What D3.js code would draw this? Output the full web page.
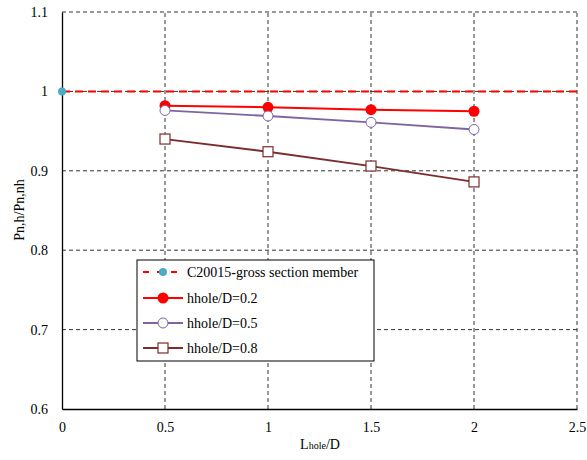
<!DOCTYPE html>
<html><head><meta charset="utf-8">
<script src="https://cdn.jsdelivr.net/npm/d3@7"></script>
<style>body{margin:0;background:#fff}svg{display:block}
svg text{font-family:"Liberation Serif","Times New Roman",Tinos,"DejaVu Serif",serif !important}</style>
</head><body>
<script>
const xTicks = [0, 0.5, 1, 1.5, 2, 2.5];
const yTicks = [0.6, 0.7, 0.8, 0.9, 1.0, 1.1];
const xVals = [0.5, 1, 1.5, 2];
const refX = [0, 2.5];
const refY = [1, 1];
const s02 = [0.982, 0.980, 0.977, 0.975];
const s05 = [0.976, 0.969, 0.961, 0.952];
const s08 = [0.940, 0.924, 0.906, 0.886];
const legendLabels = ["C20015-gross section member", "hhole/D=0.2", "hhole/D=0.5", "hhole/D=0.8"];

const W = 587, H = 460;
const m = {l: 62, r: 10, t: 12, b: 51};
const svg = d3.select("body").append("svg").attr("width", W).attr("height", H);
const x = d3.scaleLinear().domain([0, 2.5]).range([m.l, W - m.r]);
const y = d3.scaleLinear().domain([0.6, 1.1]).range([H - m.b, m.t]);

// grid
svg.append("g").selectAll("line").data(xTicks.slice(1)).join("line")
  .attr("x1", d => x(d)).attr("x2", d => x(d)).attr("y1", y(0.6)).attr("y2", y(1.1))
  .attr("stroke", "#333").attr("stroke-width", 1).attr("stroke-dasharray", "4,3");
svg.append("g").selectAll("line").data(yTicks.slice(1)).join("line")
  .attr("x1", x(0)).attr("x2", x(2.5)).attr("y1", d => y(d)).attr("y2", d => y(d))
  .attr("stroke", "#333").attr("stroke-width", 1).attr("stroke-dasharray", "4,3");

// axes
const xa = svg.append("g").attr("transform", `translate(0,${y(0.6)})`)
  .call(d3.axisBottom(x).tickValues(xTicks).tickSize(0).tickPadding(13).tickFormat(d3.format("")));
const ya = svg.append("g").attr("transform", `translate(${x(0)},0)`)
  .call(d3.axisLeft(y).tickValues(yTicks).tickSize(0).tickPadding(14).tickFormat(d => d === 1 ? "1" : d3.format(".1f")(d)));
[xa, ya].forEach(a => {
  a.attr("font-family", null);
  a.select(".domain").attr("stroke", "#000").attr("stroke-width", 1.3);
  a.selectAll("text").attr("font-size", 14).attr("fill", "#000");
});

// reference line
const line = d3.line().x(d => x(d[0])).y(d => y(d[1]));
svg.append("path").datum(d3.zip(refX, refY)).attr("d", line)
  .attr("fill", "none").attr("stroke", "#ff0000").attr("stroke-width", 2).attr("stroke-dasharray", "8,5");
svg.append("circle").attr("cx", x(refX[0])).attr("cy", y(refY[0])).attr("r", 4).attr("fill", "#4bacc6");

// series
const series = [
  {v: s02, color: "#ff0000", sym: "fcircle"},
  {v: s05, color: "#8064a2", sym: "ocircle"},
  {v: s08, color: "#7b2c2c", sym: "square"}
];
function marker(g, sym, color, cx, cy) {
  if (sym === "fcircle") g.append("circle").attr("cx", cx).attr("cy", cy).attr("r", 5.5).attr("fill", color);
  else if (sym === "ocircle") g.append("circle").attr("cx", cx).attr("cy", cy).attr("r", 5).attr("fill", "#fff").attr("stroke", color).attr("stroke-width", 1);
  else g.append("rect").attr("x", cx - 5).attr("y", cy - 5).attr("width", 10).attr("height", 10).attr("fill", "#fff").attr("stroke", color).attr("stroke-width", 1.2);
}
series.forEach(s => {
  const g = svg.append("g");
  g.append("path").datum(d3.zip(xVals, s.v)).attr("d", line)
    .attr("fill", "none").attr("stroke", s.color).attr("stroke-width", s.sym === "fcircle" ? 2 : 1.8);
  xVals.forEach((xv, i) => marker(g, s.sym, s.color, x(xv), y(s.v[i])));
});

// legend
const lg = svg.append("g").attr("transform", "translate(137,260)");
lg.append("rect").attr("width", 237).attr("height", 101).attr("fill", "#fff").attr("stroke", "#000").attr("stroke-width", 1);
const rows = [12, 38, 63, 88];
legendLabels.forEach((t, i) => {
  const ry = rows[i];
  const row = lg.append("g");
  if (i === 0) {
    row.append("line").attr("x1", 6).attr("x2", 46).attr("y1", ry).attr("y2", ry)
      .attr("stroke", "#ff0000").attr("stroke-width", 2).attr("stroke-dasharray", "6,8");
    row.append("circle").attr("cx", 26).attr("cy", ry).attr("r", 4).attr("fill", "#4bacc6");
  } else {
    const s = series[i - 1];
    row.append("line").attr("x1", 6).attr("x2", 46).attr("y1", ry).attr("y2", ry)
      .attr("stroke", s.color).attr("stroke-width", 2);
    marker(row, s.sym, s.color, 26, ry);
  }
  row.append("text").attr("x", 50).attr("y", ry + 5).attr("font-size", 14).text(t);
});

// axis titles
const xt = svg.append("text").attr("x", 320).attr("y", 449).attr("text-anchor", "middle").attr("font-size", 14);
xt.append("tspan").text("L");
xt.append("tspan").attr("font-size", 10).text("hole");
xt.append("tspan").text("/D");
svg.append("text").attr("transform", "translate(24,210) rotate(-90)").attr("text-anchor", "middle")
  .attr("font-size", 14).text("Pn,h/Pn,nh");
</script>
</body></html>
